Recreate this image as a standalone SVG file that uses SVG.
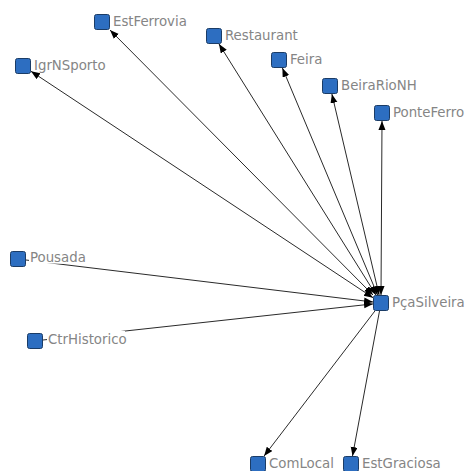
<svg xmlns="http://www.w3.org/2000/svg" width="468" height="471" viewBox="0 0 468 471">
<defs>
<marker id="arr" markerUnits="userSpaceOnUse" markerWidth="10" markerHeight="8" refX="9" refY="3.5" orient="auto-start-reverse">
<path d="M0,0 L9,3.5 L0,7 z" fill="#000"/>
</marker>
<style>
.e{stroke:#2a2a2a;stroke-width:1;fill:none}
.b{marker-start:url(#arr);marker-end:url(#arr)}
.s{marker-end:url(#arr)}
.n{fill:#2d6ec1;stroke:#1b3c66;stroke-width:1}
.bg{fill:#fff}
.t{font-family:"DejaVu Sans Condensed","DejaVu Sans",sans-serif;font-stretch:condensed;font-size:14.8px;fill:#858585}
</style>
</defs>
<rect width="468" height="471" fill="#fff"/>
<g id="edges">
<line class="e b" x1="373" y1="295" x2="110" y2="30"/>
<line class="e b" x1="373" y1="297.7" x2="31" y2="71.3"/>
<line class="e b" x1="376" y1="295" x2="219" y2="44"/>
<line class="e b" x1="377.6" y1="295" x2="282.4" y2="68"/>
<line class="e b" x1="379.1" y1="295" x2="331.9" y2="94"/>
<line class="e b" x1="381" y1="295" x2="382" y2="121"/>
<line class="e s" x1="26" y1="260" x2="373" y2="302"/>
<line class="e s" x1="43" y1="340" x2="373" y2="303.9"/>
<line class="e s" x1="374.9" y1="311" x2="264.1" y2="456"/>
<line class="e s" x1="379.5" y1="311" x2="352.5" y2="456"/>
</g>
<g id="EstFerrovia"><rect class="n" x="94.5" y="14.5" width="15" height="15" rx="2"/><text class="t" x="113" y="25.5">EstFerrovia</text></g>
<g id="IgrNSporto"><rect class="n" x="15.5" y="58.5" width="15" height="15" rx="2"/><text class="t" x="34" y="69.5">IgrNSporto</text></g>
<g id="Restaurant"><rect class="n" x="206.5" y="28.5" width="15" height="15" rx="2"/><text class="t" x="225" y="39.5">Restaurant</text></g>
<g id="Feira"><rect class="n" x="271.5" y="52.5" width="15" height="15" rx="2"/><text class="t" x="290" y="63.5">Feira</text></g>
<g id="BeiraRioNH"><rect class="n" x="322.5" y="78.5" width="15" height="15" rx="2"/><text class="t" x="341" y="89.5">BeiraRioNH</text></g>
<g id="PonteFerro"><rect class="n" x="374.5" y="105.5" width="15" height="15" rx="2"/><text class="t" x="393" y="116.5">PonteFerro</text></g>
<g id="PcaSilveira"><rect class="n" x="373.5" y="295.5" width="15" height="15" rx="2"/><text class="t" x="392" y="306.5">PçaSilveira</text></g>
<g id="Pousada"><rect class="bg" x="29" y="250" width="58" height="13.6"/><rect class="n" x="10.5" y="251.5" width="15" height="15" rx="2"/><text class="t" x="30" y="262">Pousada</text></g>
<g id="CtrHistorico"><rect class="bg" x="47" y="331" width="78" height="14"/><rect class="n" x="27.5" y="333.5" width="15" height="15" rx="2"/><text class="t" x="48" y="344">CtrHistorico</text></g>
<g id="ComLocal"><rect class="n" x="250.5" y="456.5" width="15" height="15" rx="2"/><text class="t" x="269" y="467.5">ComLocal</text></g>
<g id="EstGraciosa"><rect class="n" x="343.5" y="456.5" width="15" height="15" rx="2"/><text class="t" x="362" y="467.5">EstGraciosa</text></g>
</svg>
